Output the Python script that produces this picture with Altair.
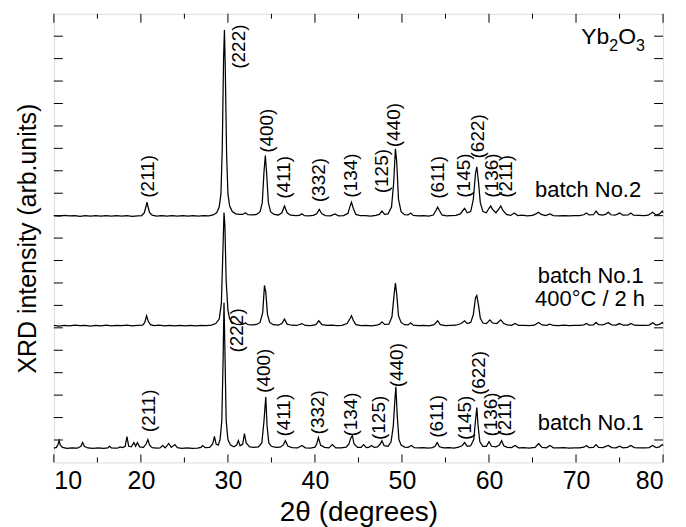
import altair as alt
import pandas as pd

# ---- data (2theta, relative intensity) ----
batch2 = [
    (10.0, 0.5), (10.6, 0), (11.2, 0.6), (11.8, 0.1), (12.4, 0.5), (13.0, -0.2), (13.6, 0.4), (14.2, 0),
    (14.8, 0.5), (15.4, -0.1), (16.0, 0.4), (16.6, 0), (17.2, 0.5), (17.8, 0), (18.4, 0.4), (19.0, -0.2),
    (19.6, 0.3), (20.1, 0.5), (20.4, 3), (20.6, 9), (20.7, 12.4), (20.8, 9), (21.0, 3), (21.3, 0.8),
    (21.8, 0), (22.4, 0.5), (23.0, -0.1), (23.6, 0.4), (24.2, 0), (24.8, 0.5), (25.4, 0), (26.0, 0.4),
    (26.6, 0), (27.2, 0.5), (27.8, 0.3), (28.3, 1), (28.7, 3), (29.0, 8), (29.2, 20), (29.35, 60),
    (29.5, 140), (29.6, 166), (29.7, 130), (29.85, 55), (30.0, 20), (30.2, 9), (30.5, 4), (30.9, 2),
    (31.3, 1.5), (31.7, 1.5), (32.0, 3), (32.3, 1.2), (32.8, 1), (33.3, 1.5), (33.7, 4), (33.95, 12),
    (34.15, 40), (34.3, 54), (34.45, 38), (34.65, 12), (34.9, 4), (35.3, 1.5), (35.8, 1), (36.2, 3),
    (36.5, 9), (36.8, 3), (37.2, 0.8), (37.8, 0.5), (38.2, 0.6), (38.5, 2), (38.8, 0.4), (39.3, 0.3),
    (39.8, 0.6), (40.2, 2), (40.5, 6), (40.8, 2), (41.2, 0.5), (41.8, 0.2), (42.3, 2), (42.7, 0.3),
    (43.3, 0.5), (43.8, 2.5), (44.0, 8), (44.2, 12.4), (44.4, 7), (44.7, 1.5), (45.2, 0.4), (45.8, 0.5),
    (46.4, 0), (47.0, 0.6), (47.4, 1.5), (47.7, 4.5), (48.0, 1.5), (48.4, 2), (48.8, 8), (49.05, 30),
    (49.25, 60), (49.4, 48), (49.6, 15), (49.9, 4), (50.3, 1.2), (50.7, 1), (51.0, 2.7), (51.3, 0.6),
    (51.9, 0.2), (52.5, 0.5), (53.1, 0), (53.6, 1), (53.9, 5), (54.1, 8), (54.3, 5), (54.6, 1),
    (55.1, 0.2), (55.6, 0.5), (56.2, 0.6), (56.7, 2), (57.0, 5), (57.2, 7), (57.5, 3), (57.9, 4),
    (58.2, 15), (58.45, 38), (58.6, 44), (58.8, 30), (59.0, 12), (59.3, 4), (59.7, 3), (60.0, 7),
    (60.2, 9), (60.4, 6), (60.8, 3), (61.1, 6), (61.35, 9), (61.6, 5), (62.0, 1.5), (62.5, 0.6),
    (62.9, 2.7), (63.3, 0.5), (63.8, 0.8), (64.4, 0.3), (65.0, 0.6), (65.4, 2), (65.7, 3.5), (66.0, 1.5),
    (66.5, 0.5), (67.0, 2), (67.4, 0.5), (68.0, 0.3), (68.6, 0.5), (69.2, 0.2), (69.8, 0.5), (70.4, 0.4),
    (70.9, 1.2), (71.2, 2.7), (71.5, 1), (72.0, 1.2), (72.3, 4.5), (72.6, 1.5), (73.0, 0.8), (73.4, 1.5),
    (73.7, 3.5), (74.0, 1.2), (74.5, 0.8), (75.0, 2.7), (75.4, 0.8), (76.0, 1), (76.3, 2.7), (76.6, 0.8),
    (77.2, 0.6), (77.8, 0.4), (78.3, 0.8), (78.8, 3.5), (79.2, 1), (79.6, 2), (79.9, 4.5), (80.0, 3),
]

batch1_annealed = [
    (10.0, 0.3), (10.6, -0.2), (11.2, 0.4), (11.8, 0), (12.4, 0.5), (13.0, 0.1), (13.6, 0.4), (14.2, -0.2),
    (14.8, 0.4), (15.4, 0), (16.0, 0.5), (16.6, -0.1), (17.2, 0.3), (17.8, 0.1), (18.4, 0.5), (19.0, -0.1),
    (19.6, 0.4), (20.2, 0.6), (20.45, 3), (20.65, 9), (20.85, 4), (21.1, 1), (21.5, 0.2), (22.1, 0.5),
    (22.7, -0.1), (23.3, 0.4), (23.9, 0), (24.5, 0.4), (25.1, -0.1), (25.7, 0.3), (26.3, 0), (26.9, 0.4),
    (27.5, 0.2), (28.1, 0.6), (28.6, 2), (29.0, 6), (29.25, 20), (29.4, 60), (29.55, 101), (29.65, 90),
    (29.8, 40), (30.0, 14), (30.2, 6), (30.5, 3), (30.9, 1.5), (31.4, 1), (31.8, 1.5), (32.0, 2.7),
    (32.3, 1), (32.8, 0.8), (33.3, 1.2), (33.7, 3), (34.0, 12), (34.2, 36), (34.35, 30), (34.55, 10),
    (34.8, 3), (35.2, 1), (35.8, 0.6), (36.2, 2), (36.5, 6), (36.8, 1.5), (37.3, 0.5), (37.9, 0.3),
    (38.5, 2), (38.9, 0.3), (39.5, 0.2), (40.1, 1), (40.45, 4.5), (40.8, 1), (41.4, 0.3), (42.0, 0.5),
    (42.5, 0.2), (43.1, 0.4), (43.7, 2), (44.0, 6), (44.2, 9), (44.4, 5), (44.7, 1), (45.3, 0.2),
    (45.9, 0.4), (46.5, 0), (47.1, 0.5), (47.45, 1.5), (47.7, 3.5), (48.0, 1.2), (48.5, 1.5), (48.85, 8),
    (49.1, 28), (49.25, 38), (49.4, 28), (49.6, 9), (49.9, 3), (50.3, 1), (50.7, 0.8), (51.0, 2.7),
    (51.3, 0.5), (51.9, 0.2), (52.5, 0.4), (53.1, 0), (53.7, 1), (54.1, 4.5), (54.4, 1), (55.0, 0.2),
    (55.6, 0.4), (56.2, 0.5), (56.8, 2), (57.2, 4.5), (57.5, 2), (57.9, 3), (58.2, 10), (58.45, 25),
    (58.6, 27), (58.8, 18), (59.0, 7), (59.3, 2.5), (59.7, 2), (60.1, 5.3), (60.4, 2.5), (60.9, 2),
    (61.35, 5.3), (61.7, 2), (62.1, 0.8), (62.6, 0.4), (63.0, 2), (63.4, 0.3), (64.0, 0.4), (64.6, 0.2),
    (65.2, 0.5), (65.7, 3), (66.1, 0.8), (66.6, 0.4), (67.0, 1.5), (67.4, 0.3), (68.0, 0.2), (68.6, 0.5),
    (69.2, 0.1), (69.8, 0.4), (70.4, 0.3), (70.9, 0.8), (71.2, 2), (71.5, 0.6), (72.0, 0.8), (72.3, 3),
    (72.6, 1), (73.1, 0.8), (73.7, 2.7), (74.1, 0.8), (74.6, 0.6), (75.0, 2), (75.4, 0.5), (76.0, 0.6),
    (76.3, 2), (76.7, 0.5), (77.3, 0.4), (77.9, 0.3), (78.4, 0.6), (78.8, 2.7), (79.2, 0.6), (79.6, 1.2),
    (79.9, 3), (80.0, 2),
]

batch1 = [
    (10.0, 0.3), (10.3, 1), (10.5, 4), (10.6, 7), (10.75, 3), (11.0, 1), (11.5, 0.2), (12.1, 0.5),
    (12.7, 0.3), (13.1, 2), (13.3, 5.3), (13.5, 2), (13.9, 0.5), (14.5, 0.2), (15.1, 0.5), (15.7, 0.1),
    (16.2, 0.6), (16.4, 2), (16.6, 0.6), (17.1, 0.3), (17.4, 0.6), (17.6, 1.5), (17.9, 0.8), (18.2, 2),
    (18.4, 10.7), (18.6, 2), (18.9, 1.5), (19.2, 5.3), (19.4, 2), (19.6, 5.3), (19.85, 1.5), (20.3, 1),
    (20.6, 4), (20.8, 8), (21.0, 3), (21.3, 0.8), (21.8, 0.4), (22.2, 0.5), (22.5, 2.7), (22.8, 0.6),
    (23.2, 4.5), (23.5, 1), (23.9, 3.5), (24.2, 0.8), (24.7, 0.2), (25.3, 0.5), (25.9, 0.1), (26.5, 0.4),
    (26.9, 1), (27.1, 2.7), (27.4, 0.8), (27.9, 1), (28.25, 4), (28.45, 10.7), (28.65, 4), (28.9, 3),
    (29.1, 8), (29.3, 25), (29.45, 80), (29.55, 130), (29.65, 90), (29.8, 25), (30.0, 8), (30.3, 3),
    (30.7, 1.5), (31.0, 3), (31.2, 7), (31.4, 2.5), (31.7, 4), (31.9, 13.3), (32.1, 5), (32.5, 1.5),
    (33.0, 1), (33.5, 1.5), (33.9, 5), (34.15, 25), (34.35, 46), (34.5, 20), (34.7, 5), (35.0, 2),
    (35.5, 1), (36.0, 1.2), (36.35, 3), (36.6, 7), (36.9, 2), (37.4, 0.8), (38.0, 0.5), (38.5, 2.7),
    (38.9, 0.6), (39.5, 0.4), (40.0, 1.2), (40.2, 4), (40.4, 9.8), (40.65, 3), (41.1, 1), (41.6, 0.5),
    (42.0, 3.5), (42.4, 0.6), (43.0, 0.5), (43.6, 1.2), (43.9, 4), (44.1, 9), (44.3, 11.6), (44.5, 4),
    (44.9, 1), (45.3, 1), (45.6, 3.5), (45.9, 0.8), (46.2, 1), (46.5, 2.7), (46.8, 1), (47.2, 1.5),
    (47.5, 4), (47.7, 7), (47.95, 2.5), (48.4, 2), (48.75, 6), (49.0, 20), (49.2, 45), (49.3, 55),
    (49.45, 30), (49.65, 8), (49.9, 3), (50.3, 1.2), (50.7, 1), (51.1, 2.7), (51.4, 0.8), (51.9, 0.5),
    (52.5, 0.8), (53.0, 0.3), (53.5, 0.8), (53.8, 2), (54.05, 5.3), (54.3, 1.5), (54.8, 0.6), (55.4, 0.8),
    (56.0, 0.4), (56.5, 1.2), (56.9, 2.5), (57.2, 5.3), (57.5, 2), (57.9, 2.5), (58.25, 8), (58.45, 25),
    (58.6, 36.5), (58.75, 20), (58.95, 6), (59.3, 2), (59.7, 2), (60.0, 6), (60.3, 2), (60.8, 1.5),
    (61.2, 3), (61.45, 7), (61.7, 2.5), (62.1, 1), (62.6, 0.8), (63.0, 2.7), (63.4, 0.6), (64.0, 0.8),
    (64.6, 0.4), (65.3, 1), (65.7, 4.5), (66.1, 1), (66.6, 0.6), (67.0, 2.7), (67.4, 0.6), (68.0, 0.5),
    (68.6, 0.8), (69.2, 0.3), (69.8, 0.6), (70.4, 0.5), (70.9, 1.2), (71.2, 2.7), (71.5, 0.8), (72.0, 1),
    (72.3, 3.5), (72.6, 1), (73.1, 0.8), (73.7, 2.7), (74.1, 0.8), (74.6, 0.6), (75.0, 2), (75.4, 0.6),
    (75.9, 1), (76.3, 2.7), (76.7, 0.8), (77.3, 0.5), (77.9, 0.6), (78.4, 0.8), (78.8, 2.7), (79.2, 0.8),
    (79.6, 1.5), (79.9, 3.5), (80.0, 2.5),
]

series_names = ["batch No.2", "batch No.1 annealed", "batch No.1"]
series_offsets = [219.6, 121.8, 12.4]

# peak labels: (2theta, y position of label start, text)
hkl_top = [
    (20.8, 236, "(211)"), (31.3, 351, "(222)"), (34.5, 276, "(400)"), (36.5, 235, "(411)"),
    (40.5, 232, "(332)"), (44.1, 236, "(134)"), (47.7, 240, "(125)"), (49.1, 281, "(440)"),
    (54.1, 235, "(611)"), (57.1, 236, "(145)"), (58.7, 271, "(622)"), (60.3, 236, "(136)"),
    (62.0, 236, "(211)"),
]
hkl_bottom = [
    (20.9, 27, "(211)"), (31.0, 98, "(222)"), (34.2, 62, "(400)"), (36.5, 23, "(411)"),
    (40.3, 25, "(332)"), (44.2, 23, "(134)"), (47.4, 20, "(125)"), (49.4, 67, "(440)"),
    (54.0, 22, "(611)"), (57.2, 20, "(145)"), (58.8, 60, "(622)"), (60.2, 23, "(136)"),
    (61.8, 23, "(211)"),
]
sample_labels = [
    (65.3, 237, "batch No.2"), (65.6, 160, "batch No.1"), (65.3, 139.6, "400°C / 2 h"),
    (65.6, 29.3, "batch No.1"),
]

x_major = [10, 20, 30, 40, 50, 60, 70, 80]
x_minor = [15, 25, 35, 45, 55, 65, 75]
y_ticks = [20, 40, 60, 80, 100, 120, 140, 160, 180, 200, 220, 240, 260, 280, 300, 320, 340, 360, 380]

FONT = "Liberation Sans"
W, H = 611, 450

rows = []
for name, trace, off in zip(series_names, [batch2, batch1_annealed, batch1], series_offsets):
    for tt, inten in trace:
        rows.append({"series": name, "theta": tt, "I": inten + off})
df = pd.DataFrame(rows)

xs = alt.Scale(domain=[10, 80], nice=False, zero=False)
ys = alt.Scale(domain=[0, 400], nice=False, zero=False)

x_axis = alt.Axis(
    values=x_major, ticks=False, domain=False, grid=False, labelFontSize=25,
    labelPadding=6, labelColor="black", labelFont=FONT, title="2θ (degrees)",
    titleFontSize=28, titleFontWeight="normal", titlePadding=5, titleColor="black",
    titleFont=FONT)
y_axis = alt.Axis(
    labels=False, ticks=False, domain=False, grid=False,
    title="XRD intensity (arb.units)", titleFontSize=25, titleFontWeight="normal",
    titlePadding=13, titleColor="black", titleFont=FONT)


def X(field):
    return alt.X(field, scale=xs, axis=x_axis, title="2θ (degrees)")


def Y(field):
    return alt.Y(field, scale=ys, axis=y_axis, title="XRD intensity (arb.units)")


lines = alt.Chart(df).mark_line(color="black", strokeWidth=1.25).encode(
    x=X("theta:Q"), y=Y("I:Q"), detail="series:N")

xmaj_df = pd.DataFrame({"t": x_major})
xmin_df = pd.DataFrame({"t": x_minor})
yt_df = pd.DataFrame({"t": y_ticks})


def xt(d, y1, y2):
    return alt.Chart(d).mark_rule(color="black", strokeWidth=1).encode(
        x=X("t:Q"), y=alt.value(y1), y2=alt.value(y2))


def yt(x1, x2):
    return alt.Chart(yt_df).mark_rule(color="black", strokeWidth=1).encode(
        y=Y("t:Q"), x=alt.value(x1), x2=alt.value(x2))


ticks = [
    xt(xmaj_df, H, H - 8), xt(xmin_df, H, H - 5), xt(xmaj_df, 0, 9), xt(xmin_df, 0, 5),
    yt(0, 9), yt(W, W - 9),
]

hkl_df = pd.DataFrame(
    [{"x": a, "y": b, "t": c} for a, b, c in hkl_top + hkl_bottom])
hkl = alt.Chart(hkl_df).mark_text(
    angle=270, align="left", baseline="middle", fontSize=19, font=FONT, color="black"
).encode(x=X("x:Q"), y=Y("y:Q"), text="t:N")

lab_df = pd.DataFrame([{"x": a, "y": b, "t": c} for a, b, c in sample_labels])
labs = alt.Chart(lab_df).mark_text(
    align="left", baseline="alphabetic", fontSize=22, font=FONT, color="black"
).encode(x=X("x:Q"), y=Y("y:Q"), text="t:N")

formula_parts = [("Yb", 0, 0, 23), ("2", 28, 7, 16), ("O", 37, 0, 23), ("3", 55, 7, 16)]
formula = []
for txt, dx, dy, fs in formula_parts:
    formula.append(
        alt.Chart(pd.DataFrame({"x": [70.6], "y": [373], "t": [txt]})).mark_text(
            align="left", baseline="alphabetic", fontSize=fs, font=FONT, color="black",
            dx=dx, dy=dy
        ).encode(x=X("x:Q"), y=Y("y:Q"), text="t:N")
    )

chart = alt.layer(lines, *ticks, hkl, labs, *formula).properties(
    width=W, height=H, autosize="none",
    padding={"left": 46, "top": 5, "right": 15, "bottom": 64},
).configure_view(stroke="black", strokeWidth=1.2).configure(font=FONT)

chart.save("out.html", embed_options={"renderer": "svg", "actions": False})
